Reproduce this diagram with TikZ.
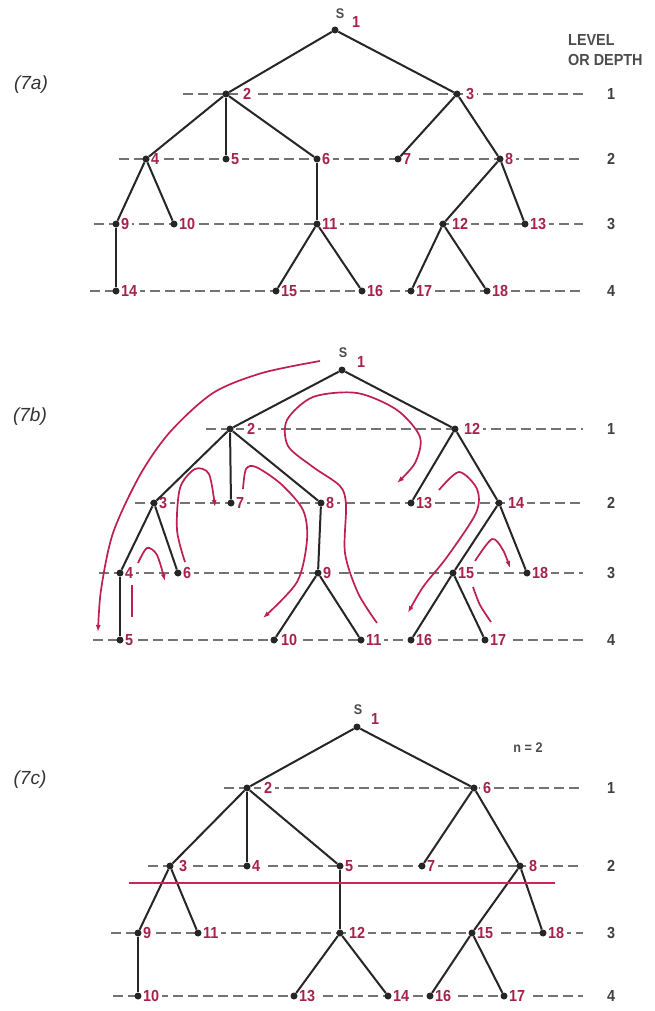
\documentclass[tikz,border=0pt]{standalone}
\usepackage{fontspec}
\setmainfont{Liberation Sans}
\newfontfamily\labfam[FakeStretch=0.9]{Liberation Sans}
\usetikzlibrary{arrows.meta}
\definecolor{labred}{RGB}{165,35,75}
\definecolor{arrred}{RGB}{190,30,80}
\definecolor{linered}{RGB}{205,40,85}
\pgfdeclarelayer{bg}
\pgfsetlayers{bg,main}
\newcommand\TreeNode[5][2]{%
  \node[lbl,anchor=west] (#2l) at ([xshift=#1pt]#3,#4) {#5};
  \node[dot] (#2) at (#3,#4) {};}
\tikzset{
  dot/.style={circle,fill=black!85,inner sep=0pt,minimum size=7pt},
  lbl/.style={font=\labfam\fontsize{16}{16}\selectfont\bfseries,text=labred,fill=white,inner ysep=1pt,inner xsep=3pt},
  levnum/.style={font=\labfam\fontsize{16}{16}\selectfont\bfseries,text=black!75,inner sep=0pt},
  stext/.style={font=\labfam\fontsize{14}{14}\selectfont\bfseries,text=black!70,inner sep=0pt},
  headtext/.style={font=\labfam\fontsize{16}{16}\selectfont\bfseries,text=black!70,inner sep=0pt},
  figlab/.style={font=\itshape\fontsize{19}{19}\selectfont,text=black!80,inner sep=0pt},
  edge/.style={line width=2pt,draw=black!85},
  lev/.style={line width=1.5pt,draw=black!55,dash pattern=on 10pt off 5pt},
  trav/.style={line width=1.7pt,draw=arrred,-{Latex[length=7pt,width=5pt]}},
  travline/.style={line width=1.7pt,draw=arrred},
}
\begin{document}
\begin{tikzpicture}[x=1pt,y=-1pt]
\useasboundingbox (0,0) rectangle (655,1011);
\begin{pgfonlayer}{bg}
\fill[white] (0,0) rectangle (655,1011);
\end{pgfonlayer}

% ---------------- (7a) ----------------
\node[figlab] (la) at (31,85) {(7a)};
\node[headtext,anchor=west] (lev1) at (568,40) {LEVEL};
\node[headtext,anchor=west] (lev2) at (568,60) {OR DEPTH};
\node[dot] (a1) at (335,30) {};
\node[stext] (aS) at (340,14) {S};
\node[lbl] (aS1) at (356,22) {1};
\TreeNode[14]{a2}{226}{94}{2}
\TreeNode[6]{a3}{457}{94}{3}
\TreeNode{a4}{146}{159}{4}
\TreeNode{a5}{226}{159}{5}
\TreeNode{a6}{317}{159}{6}
\TreeNode{a7}{398}{159}{7}
\TreeNode{a8}{500}{159}{8}
\TreeNode{a9}{116}{224}{9}
\TreeNode{a10}{174}{224}{10}
\TreeNode{a11}{317}{224}{11}
\TreeNode[6]{a12}{443}{224}{12}
\TreeNode{a13}{525}{224}{13}
\TreeNode{a14}{116}{291}{14}
\TreeNode{a15}{276}{291}{15}
\TreeNode{a16}{362}{291}{16}
\TreeNode{a17}{411}{291}{17}
\TreeNode{a18}{487}{291}{18}
\begin{pgfonlayer}{bg}
\draw[lev] (183,94) -- (583,94);
\draw[lev] (119,159) -- (583,159);
\draw[lev] (94,224) -- (583,224);
\draw[lev] (90,291) -- (583,291);
\end{pgfonlayer}
\foreach \a/\b in {a1/a2,a1/a3,a2/a4,a2/a5,a2/a6,a3/a7,a3/a8,a4/a9,a4/a10,a6/a11,a8/a12,a8/a13,a9/a14,a11/a15,a11/a16,a12/a17,a12/a18}
  \draw[edge] (\a) -- (\b);
\node[levnum] (an1) at (611,94) {1};
\node[levnum] (an2) at (611,159) {2};
\node[levnum] (an3) at (611,224) {3};
\node[levnum] (an4) at (611,291) {4};

% ---------------- (7b) ----------------
\node[figlab] (lb) at (30,417) {(7b)};
\node[dot] (b1) at (342,370) {};
\node[stext] (bS) at (343,353) {S};
\node[lbl] (bS1) at (361,362) {1};
\TreeNode[14]{b2}{230}{429}{2}
\TreeNode[6]{b12}{455}{429}{12}
\TreeNode{b3}{154}{503}{3}
\TreeNode{b7}{231}{503}{7}
\TreeNode{b8}{321}{503}{8}
\TreeNode{b13}{411}{503}{13}
\TreeNode[6]{b14}{499}{503}{14}
\TreeNode{b4}{120}{573}{4}
\TreeNode{b6}{178}{573}{6}
\TreeNode{b9}{318}{573}{9}
\TreeNode{b15}{453}{573}{15}
\TreeNode{b18}{527}{573}{18}
\TreeNode{b5}{120}{640}{5}
\TreeNode[4]{b10}{274}{640}{10}
\TreeNode{b11}{361}{640}{11}
\TreeNode{b16}{411}{640}{16}
\TreeNode{b17}{485}{640}{17}
\begin{pgfonlayer}{bg}
\draw[lev] (206,429) -- (583,429);
\draw[lev] (135,503) -- (583,503);
\draw[lev] (99,573) -- (583,573);
\draw[lev] (93,640) -- (583,640);
\end{pgfonlayer}
\foreach \a/\b in {b1/b2,b1/b12,b2/b3,b2/b7,b2/b8,b3/b4,b3/b6,b4/b5,b8/b9,b9/b10,b9/b11,b12/b13,b12/b14,b14/b15,b14/b18,b15/b16,b15/b17}
  \draw[edge] (\a) -- (\b);
\node[levnum] (bn1) at (611,429) {1};
\node[levnum] (bn2) at (611,503) {2};
\node[levnum] (bn3) at (611,573) {3};
\node[levnum] (bn4) at (611,640) {4};
% traversal arrows
\draw[trav] plot[smooth] coordinates {(320,361) (262,373) (213,393) (170,432) (140,475) (113,533) (101,590) (98,632)};
\draw[travline] (132,585) -- (132,617);
\draw[trav] plot[smooth] coordinates {(138,563) (147,548) (157,555) (165,581)};
\draw[trav] plot[smooth] coordinates {(185,562) (177,530) (180,488) (195,469) (209,474) (215,507)};
\draw[trav] plot[smooth] coordinates {(243,489) (246,469) (256,467) (281,484) (303,510) (307,540) (297,582) (263,618)};
\draw[trav] plot[smooth] coordinates {(377,623) (358,593) (345,553) (346,505) (340,486) (313,467) (288,446) (287,420) (313,397) (357,393) (397,410) (420,437) (415,463) (397,483)};
\draw[trav] plot[smooth] coordinates {(439,490) (459,472) (477,489) (476,513) (447,557) (423,587) (408,613)};
\draw[trav] plot[smooth] coordinates {(475,561) (492,539) (503,550) (510,568)};
\draw[travline] plot[smooth] coordinates {(473,587) (480,605) (491,622)};

% ---------------- (7c) ----------------
\node[figlab] (lc) at (30,780) {(7c)};
\node[stext] (cn) at (528,748) {n = 2};
\node[dot] (c1) at (357,727) {};
\node[stext] (cS) at (358,710) {S};
\node[lbl] (cS1) at (375,719) {1};
\TreeNode[14]{c2}{247}{788}{2}
\TreeNode[6]{c6}{474}{788}{6}
\TreeNode[6]{c3}{170}{866}{3}
\TreeNode{c4}{247}{866}{4}
\TreeNode{c5}{340}{866}{5}
\TreeNode{c7}{422}{866}{7}
\TreeNode[6]{c8}{520}{866}{8}
\TreeNode{c9}{138}{933}{9}
\TreeNode{c11}{198}{933}{11}
\TreeNode[6]{c12}{340}{933}{12}
\TreeNode{c15}{472}{933}{15}
\TreeNode{c18}{543}{933}{18}
\TreeNode{c10}{138}{996}{10}
\TreeNode{c13}{294}{996}{13}
\TreeNode{c14}{388}{996}{14}
\TreeNode{c16}{430}{996}{16}
\TreeNode{c17}{504}{996}{17}
\begin{pgfonlayer}{bg}
\draw[lev] (224,788) -- (583,788);
\draw[lev] (148,866) -- (583,866);
\draw[lev] (111,933) -- (583,933);
\draw[lev] (113,996) -- (583,996);
\end{pgfonlayer}
\foreach \a/\b in {c1/c2,c1/c6,c2/c3,c2/c4,c2/c5,c3/c9,c3/c11,c5/c12,c6/c7,c6/c8,c8/c15,c8/c18,c9/c10,c12/c13,c12/c14,c15/c16,c15/c17}
  \draw[edge] (\a) -- (\b);
\draw[line width=1.5pt,draw=linered] (129,883) -- (555,883);
\node[levnum] (cn1) at (611,788) {1};
\node[levnum] (cn2) at (611,866) {2};
\node[levnum] (cn3) at (611,933) {3};
\node[levnum] (cn4) at (611,996) {4};
\end{tikzpicture}
\end{document}
